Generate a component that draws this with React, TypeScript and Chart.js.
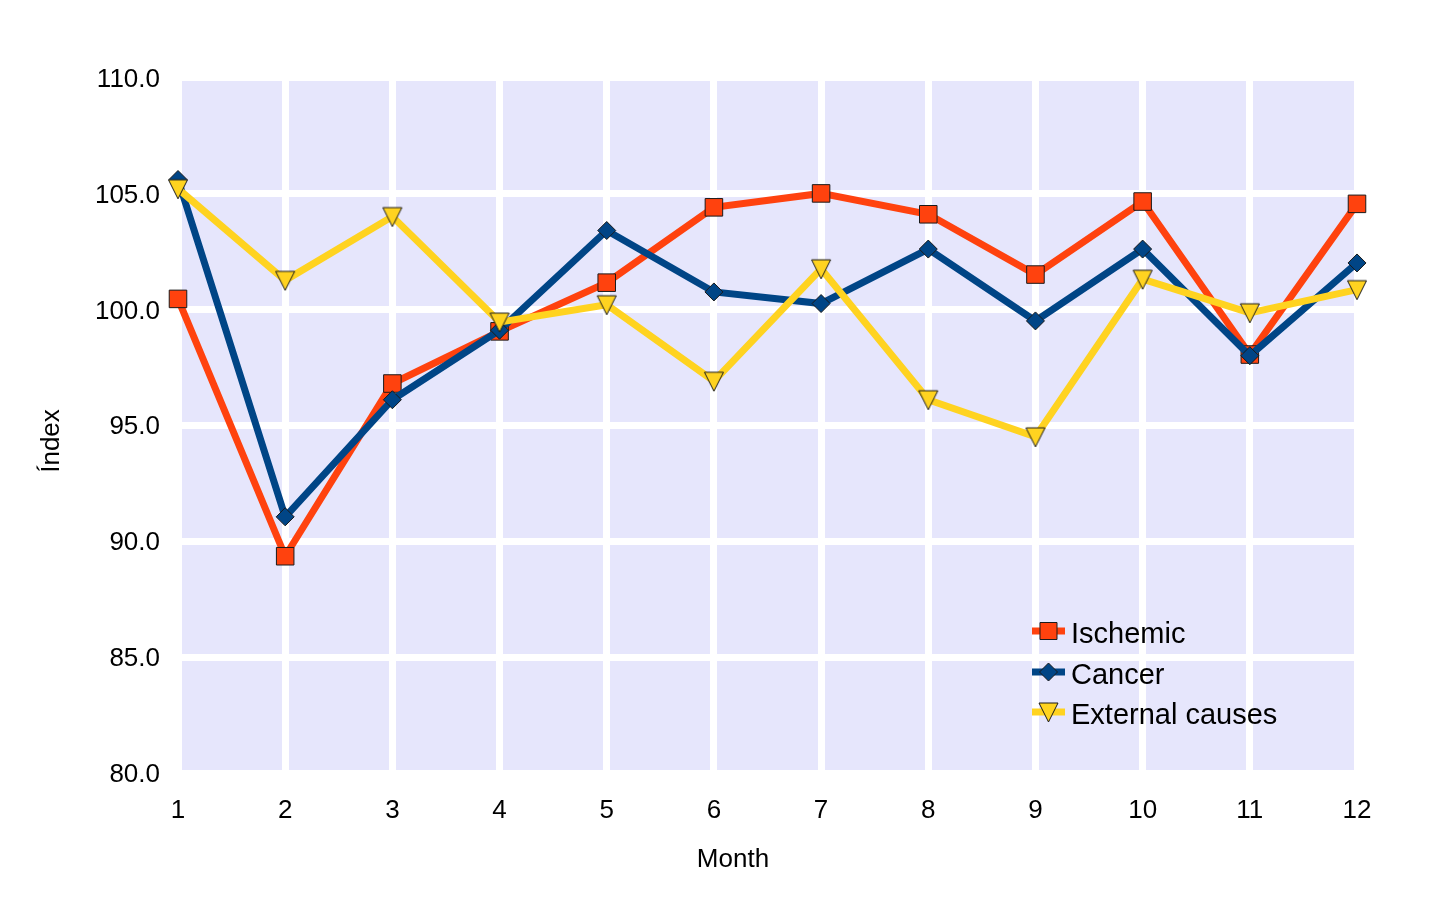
import React, { useEffect, useRef } from "react";
import { Chart, registerables } from "chart.js";

Chart.register(...registerables);

const months = ["1", "2", "3", "4", "5", "6", "7", "8", "9", "10", "11", "12"];
const ischemic = [100.45, 89.35, 96.8, 99.05, 101.15, 104.4, 105.0, 104.1, 101.5, 104.65, 98.05, 104.55];
const cancer = [105.6, 91.05, 96.1, 99.1, 103.4, 100.75, 100.25, 102.6, 99.5, 102.6, 98.0, 102.0];
const external = [105.2, 101.25, 104.0, 99.45, 100.2, 96.9, 101.75, 96.1, 94.5, 101.3, 99.85, 100.85];
const seriesNames = ["Ischemic", "Cancer", "External causes"];
const yTicks = [80, 85, 90, 95, 100, 105, 110];

const RED = "#ff420e";
const BLUE = "#004586";
const YELLOW = "#ffd320";
const EDGE = "#1a1a1a";
const WALL = "#e6e6fc";
const FONT = "'Liberation Sans', Arial, sans-serif";

function makeTriangle(): HTMLCanvasElement {
  const c = document.createElement("canvas");
  c.width = 22;
  c.height = 22;
  const ctx = c.getContext("2d")!;
  ctx.beginPath();
  ctx.moveTo(1.5, 2);
  ctx.lineTo(20.5, 2);
  ctx.lineTo(11, 21);
  ctx.closePath();
  ctx.fillStyle = YELLOW;
  ctx.fill();
  ctx.lineWidth = 1;
  ctx.strokeStyle = EDGE;
  ctx.stroke();
  return c;
}

export default function App() {
  const ref = useRef<HTMLCanvasElement | null>(null);

  useEffect(() => {
    if (!ref.current) return;
    const tri = makeTriangle();

    const wallPlugin = {
      id: "wall",
      beforeDraw(chart: any) {
        const { ctx, chartArea } = chart;
        ctx.save();
        ctx.fillStyle = WALL;
        ctx.fillRect(chartArea.left, chartArea.top, chartArea.right - chartArea.left, chartArea.bottom - chartArea.top);
        ctx.restore();
      },
    };

    const overlayPlugin = {
      id: "overlay",
      afterDraw(chart: any) {
        const ctx = chart.ctx as CanvasRenderingContext2D;
        ctx.save();
        ctx.fillStyle = "#000";
        ctx.font = `26px ${FONT}`;
        ctx.textAlign = "center";
        ctx.textBaseline = "middle";
        ctx.fillText("Month", 733, 860);
        ctx.save();
        ctx.translate(52, 441);
        ctx.rotate(-Math.PI / 2);
        ctx.fillText("Índex", 0, 0);
        ctx.restore();

        const colors = [RED, BLUE, YELLOW];
        const rows = [631, 672, 712];
        for (let i = 0; i < 3; i++) {
          const y = rows[i];
          ctx.strokeStyle = colors[i];
          ctx.lineWidth = 7;
          ctx.beginPath();
          ctx.moveTo(1032, y);
          ctx.lineTo(1065, y);
          ctx.stroke();
          const cx = 1048.5;
          ctx.lineWidth = 1;
          ctx.strokeStyle = EDGE;
          ctx.fillStyle = colors[i];
          ctx.beginPath();
          if (i === 0) {
            ctx.rect(cx - 8.5, y - 8.5, 17, 17);
          } else if (i === 1) {
            ctx.moveTo(cx, y - 9);
            ctx.lineTo(cx + 9, y);
            ctx.lineTo(cx, y + 9);
            ctx.lineTo(cx - 9, y);
            ctx.closePath();
          } else {
            ctx.moveTo(cx - 9.5, y - 9);
            ctx.lineTo(cx + 9.5, y - 9);
            ctx.lineTo(cx, y + 10);
            ctx.closePath();
          }
          ctx.fill();
          ctx.stroke();
          ctx.fillStyle = "#000";
          ctx.font = `29px ${FONT}`;
          ctx.textAlign = "left";
          ctx.textBaseline = "middle";
          ctx.fillText(seriesNames[i], 1071, y + 4);
        }
        ctx.restore();
      },
    };

    const chart = new Chart(ref.current, {
      type: "line",
      data: {
        labels: months,
        datasets: [
          {
            label: seriesNames[0],
            data: ischemic,
            borderColor: RED,
            backgroundColor: RED,
            borderWidth: 7,
            pointStyle: "rect",
            pointRadius: 12.4,
            pointBackgroundColor: RED,
            pointBorderColor: EDGE,
            pointBorderWidth: 1,
            tension: 0,
            order: 3,
          },
          {
            label: seriesNames[1],
            data: cancer,
            borderColor: BLUE,
            backgroundColor: BLUE,
            borderWidth: 7,
            pointStyle: "rectRot",
            pointRadius: 9,
            pointBackgroundColor: BLUE,
            pointBorderColor: EDGE,
            pointBorderWidth: 1,
            tension: 0,
            order: 2,
          },
          {
            label: seriesNames[2],
            data: external,
            borderColor: YELLOW,
            backgroundColor: YELLOW,
            borderWidth: 7,
            pointStyle: tri as any,
            pointRadius: 10,
            tension: 0,
            order: 1,
          },
        ],
      },
      options: {
        animation: false,
        responsive: false,
        clip: false as any,
        events: [],
        layout: { padding: { left: 0, right: 85, top: 77.5, bottom: 0 } },
        plugins: {
          legend: { display: false },
          tooltip: { enabled: false },
          title: { display: false },
        },
        scales: {
          x: {
            type: "category",
            offset: false,
            border: { display: false },
            grid: { color: "#ffffff", lineWidth: 7, drawTicks: false },
            ticks: { color: "#000", font: { family: FONT, size: 26 }, padding: 22, maxRotation: 0, autoSkip: false },
            afterFit(scale: any) {
              scale.height = 140;
            },
          },
          y: {
            min: 80,
            max: 110,
            border: { display: false },
            grid: { color: "#ffffff", lineWidth: 7, drawTicks: false },
            ticks: {
              color: "#000",
              font: { family: FONT, size: 26 },
              padding: 18,
              labelOffset: 2,
              stepSize: 5,
              callback: (v: any) => Number(v).toFixed(1),
            },
            afterBuildTicks(scale: any) {
              scale.ticks = yTicks.map((v) => ({ value: v }));
            },
            afterFit(scale: any) {
              scale.width = 178;
            },
          },
        },
      },
      plugins: [wallPlugin, overlayPlugin],
    });
    return () => chart.destroy();
  }, []);

  return (
    <div style={{ position: "absolute", left: 0, top: 0, width: 1442, height: 913, background: "#fff" }}>
      <canvas ref={ref} width={1442} height={913} style={{ width: 1442, height: 913, display: "block" }} />
    </div>
  );
}
